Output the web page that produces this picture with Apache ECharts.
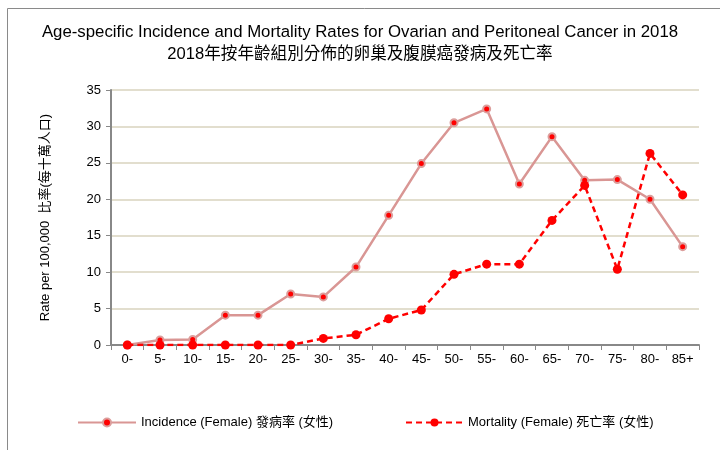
<!DOCTYPE html>
<html>
<head>
<meta charset="utf-8">
<script src="https://cdn.jsdelivr.net/npm/echarts@6/dist/echarts.min.js"></script>
<style>
  html, body { margin: 0; padding: 0; background: #fff; }
</style>
</head>
<body>
<div id="main" style="width: 720px; height: 450px"></div>
<script>
// age groups
const ageGroups = ['0-', '5-', '10-', '15-', '20-', '25-', '30-', '35-', '40-', '45-', '50-', '55-', '60-', '65-', '70-', '75-', '80-', '85+']
// rate per 100,000
const incidence = [0, 0.7, 0.75, 4.1, 4.1, 7.0, 6.6, 10.7, 17.8, 24.9, 30.5, 32.4, 22.1, 28.6, 22.6, 22.7, 20.0, 13.5]
const mortality = [0, 0, 0, 0, 0, 0, 0.9, 1.4, 3.6, 4.8, 9.7, 11.1, 11.1, 17.1, 21.9, 10.4, 26.3, 20.6]

const FONT = "'Liberation Sans', Arial, 'Noto Sans CJK TC', sans-serif"

var myChart = echarts.init(document.getElementById('main'))
var option = {
  animation: false,
  textStyle: { fontFamily: FONT },
  graphic: [
    {
      type: 'rect',
      shape: { x: 7.5, y: 8.5, width: 730, height: 460 },
      style: { fill: 'none', stroke: '#8a8a8a', lineWidth: 1 },
      silent: true
    }
  ],
  title: [
    {
      text: 'Age-specific Incidence and Mortality Rates for Ovarian and Peritoneal Cancer in 2018',
      left: 'center',
      top: 19,
      textStyle: { fontFamily: FONT, fontSize: 16.8, fontWeight: 'normal', color: '#000' }
    },
    {
      text: '2018年按年齡組別分佈的卵巢及腹膜癌發病及死亡率',
      left: 'center',
      top: 41,
      textStyle: { fontFamily: FONT, fontSize: 16.6, fontWeight: 'normal', color: '#000' }
    }
  ],
  legend: [
    {
      data: ['Incidence (Female) 發病率 (女性)'],
      left: 72,
      top: 411,
      itemWidth: 58,
      itemHeight: 10,
      textStyle: { fontFamily: FONT, fontSize: 13, color: '#000' }
    },
    {
      data: ['Mortality (Female) 死亡率 (女性)'],
      left: 400,
      top: 411,
      itemWidth: 57,
      itemHeight: 10,
      textStyle: { fontFamily: FONT, fontSize: 13, color: '#000' }
    }
  ],
  grid: {
    left: 111,
    right: 21,
    top: 90,
    bottom: 105
  },
  xAxis: {
    type: 'category',
    data: ageGroups,
    boundaryGap: true,
    axisLine: { lineStyle: { color: '#888', width: 2 } },
    axisTick: { show: true, length: 5, lineStyle: { color: '#888' } },
    axisLabel: { color: '#000', fontSize: 13, fontFamily: FONT, margin: 8 }
  },
  yAxis: {
    type: 'value',
    min: 0,
    max: 35,
    interval: 5,
    name: 'Rate per 100,000  比率(每十萬人口)',
    nameLocation: 'middle',
    nameGap: 59,
    nameTextStyle: { color: '#000', fontSize: 13, fontFamily: FONT },
    axisLine: { show: true, lineStyle: { color: '#888', width: 2 } },
    axisTick: { show: true, length: 5, lineStyle: { color: '#888' } },
    axisLabel: { color: '#000', fontSize: 13, fontFamily: FONT, margin: 10 },
    splitLine: { lineStyle: { color: '#e2dece', width: 2 } }
  },
  series: [
    {
      name: 'Incidence (Female) 發病率 (女性)',
      type: 'line',
      data: incidence,
      symbol: 'circle',
      symbolSize: 7,
      lineStyle: { color: '#d99694', width: 2.5 },
      itemStyle: { color: '#ff0000', borderColor: '#dc9e9c', borderWidth: 2 },
      z: 2
    },
    {
      name: 'Mortality (Female) 死亡率 (女性)',
      type: 'line',
      data: mortality,
      symbol: 'circle',
      symbolSize: 9,
      lineStyle: { color: '#ff0000', width: 2.5, type: [6, 4] },
      itemStyle: { color: '#ff0000' },
      z: 3
    }
  ]
}
myChart.setOption(option)
</script>
</body>
</html>
